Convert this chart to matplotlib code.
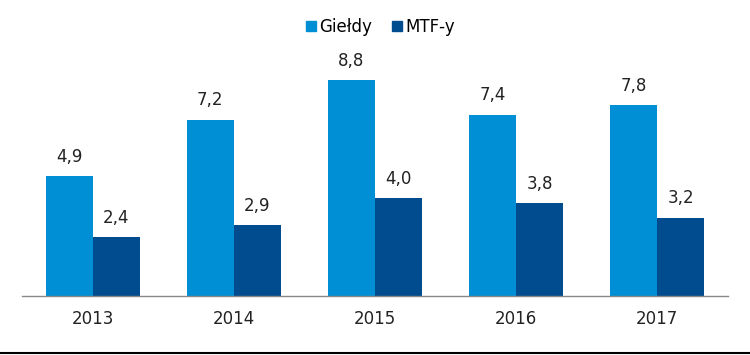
import numpy as np
import matplotlib.pyplot as plt
from matplotlib.lines import Line2D

years = ['2013', '2014', '2015', '2016', '2017']
gieldy = [4.9, 7.2, 8.8, 7.4, 7.8]
mtf = [2.4, 2.9, 4.0, 3.8, 3.2]

c_light = '#008fd5'
c_dark = '#004c8e'

fig = plt.figure(figsize=(7.5, 3.55), dpi=100)
ax = fig.add_axes([0.0293, 0.1662, 0.9413, 0.69])

x = np.arange(len(years))
w = 0.333
b1 = ax.bar(x - w / 2, gieldy, w, color=c_light, label='Giełdy')
b2 = ax.bar(x + w / 2, mtf, w, color=c_dark, label='MTF-y')

for bars, vals in ((b1, gieldy), (b2, mtf)):
    for r, v in zip(bars, vals):
        ax.text(r.get_x() + r.get_width() / 2, v + 0.42, f'{v:.1f}'.replace('.', ','),
                ha='center', va='bottom', fontsize=12, color='#222222')

ax.set_xlim(-0.5, len(years) - 0.5)
ax.set_ylim(0, 10)
ax.set_xticks(x)
ax.set_xticklabels(years, fontsize=12, color='#222222')
ax.tick_params(axis='x', length=0, pad=10)
ax.set_yticks([])
for s in ('top', 'right', 'left'):
    ax.spines[s].set_visible(False)
ax.spines['bottom'].set_color('#888888')
ax.spines['bottom'].set_linewidth(1)

handles = [Line2D([], [], marker='s', ls='', color=c_light, markersize=6.5),
           Line2D([], [], marker='s', ls='', color=c_dark, markersize=6.5)]
fig.legend(handles, ['Giełdy', 'MTF-y'], loc='center', bbox_to_anchor=(0.505, 0.925),
           ncol=2, frameon=False, fontsize=12, handletextpad=0.0, columnspacing=1.0,
           handlelength=1.0)

fig.add_artist(Line2D([0, 1], [0.006, 0.006], color='black', lw=1.5, transform=fig.transFigure))

fig.savefig('out.png', dpi=100)
